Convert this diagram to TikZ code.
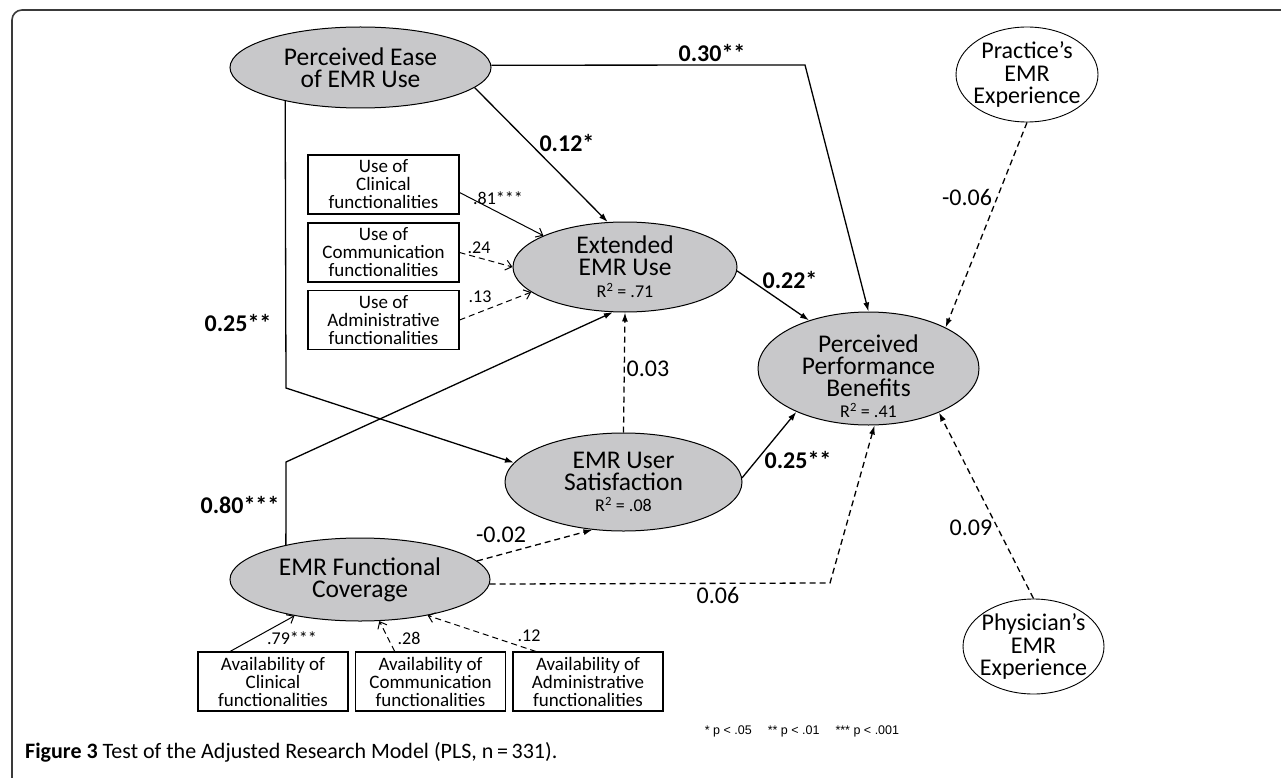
\documentclass[tikz,border=0pt]{standalone}
\usepackage{fontspec}
\setmainfont{Carlito}
\newfontfamily\legendfont{Liberation Sans}
\usetikzlibrary{arrows.meta,shapes.geometric}
\definecolor{latentfill}{HTML}{C8C8CA}
\definecolor{framecol}{HTML}{3A3A3A}

\begin{document}
\begin{tikzpicture}[x=1pt,y=-1pt,
   latent/.style={ellipse,draw,line width=1pt,fill=latentfill,inner sep=-16pt,align=center,
     font=\fontsize{25.5}{22}\selectfont},
   moderator/.style={ellipse,draw,line width=0.9pt,fill=white,inner sep=-14pt,align=center,
     font=\fontsize{24}{22.5}\selectfont},
   indicator/.style={rectangle,draw,line width=1.1pt,minimum width=151pt,minimum height=59pt,
     inner sep=0pt,align=center,font=\fontsize{19}{18}\selectfont},
   coef/.style={inner sep=0pt,font=\fontsize{24}{24}\selectfont\bfseries},
   nscoef/.style={inner sep=0pt,font=\fontsize{24}{24}\selectfont},
   weight/.style={inner sep=0pt,font=\fontsize{18}{18}\selectfont},
   sigpath/.style={line width=1.3pt,-{Latex[length=9pt,width=6pt]}},
   nspath/.style={sigpath,dash pattern=on 6pt off 4pt},
   loadpath/.style={line width=1pt,-{Straight Barb[length=6pt,width=10pt]}},
   nsload/.style={loadpath,dash pattern=on 6pt off 4pt}]
   \useasboundingbox (0,0) rectangle (1281,778);
   \draw [framecol,line width=1.6pt,rounded corners=10pt] (12,778) -- (12,10) -- (1281,10);

   \node [latent,minimum width=261pt,minimum height=81pt] (ease) at (360.5,67.5) {Perceived Ease\\of EMR Use};
   \node [latent,minimum width=224pt,minimum height=90pt] (ext) at (625,267)
     {Extended\\EMR Use\\[0pt]{\fontsize{18}{18}\selectfont R\textsuperscript{2} = .71}};
   \node [latent,minimum width=221pt,minimum height=113pt] (perf) at (868.5,368.5)
     {\rule{0pt}{34pt}Perceived\\Performance\\Benefits\\[-1pt]{\fontsize{18}{18}\selectfont R\textsuperscript{2} = .41}};
   \node [latent,minimum width=237pt,minimum height=98pt] (sat) at (623.5,482)
     {EMR User\\Satisfaction\\[-1pt]{\fontsize{18}{18}\selectfont R\textsuperscript{2} = .08}};
   \node [latent,minimum width=260pt,minimum height=83pt] (cov) at (360,579.5) {EMR Functional\\Coverage};
   \node [moderator,minimum width=142pt,minimum height=95pt] (prac) at (1027,74.5) {Practice’s\\EMR\\Experience};
   \node [moderator,minimum width=141pt,minimum height=95pt] (phys) at (1033.5,646.5) {Physician’s\\EMR\\Experience};

   \node [indicator] (useclin) at (383.5,184.5) {Use of\\Clinical\\functionalities};
   \node [indicator] (usecomm) at (383.5,252.5) {Use of\\Communication\\functionalities};
   \node [indicator] (useadmin) at (383.5,320) {Use of\\Administrative\\functionalities};
   \node [indicator,minimum width=150pt] (avclin) at (273,681.5) {Availability of\\Clinical\\functionalities};
   \node [indicator,minimum width=150pt] (avcomm) at (430.5,681.5) {Availability of\\Communication\\functionalities};
   \node [indicator,minimum width=150pt] (avadmin) at (588,681.5) {Availability of\\Administrative\\functionalities};

   \coordinate (c30) at (805,65);
   \coordinate (c25) at (286,388);
   \coordinate (c80) at (286,462);
   \coordinate (c06) at (830,583);

   \draw [sigpath] (ease.1) -- (c30) -- (perf.north);
   \draw [sigpath] (ease.-10) -- (ext.111);
   \draw [sigpath] (ease.204) -- (c25) -- (sat.170);
   \draw [sigpath] (cov.155) -- (c80) -- (ext.255);
   \draw [nspath] (sat.north) -- (ext.south);
   \draw [sigpath] (ext.-2) -- (perf.141);
   \draw [sigpath] (sat.2) -- (perf.211);
   \draw [nspath] (cov.9) -- (sat.237);
   \draw [nspath] (cov.-2) -- (c06) -- (perf.276);
   \draw [nspath] (prac.south) -- (perf.28);
   \draw [nspath] (phys.north) -- (perf.328);

   \draw [loadpath] (useclin.-6) -- (ext.159);
   \draw [nsload] (usecomm.east) -- (ext.west);
   \draw [nsload] (useadmin.east) -- (ext.195);
   \draw [loadpath] (avclin.145) -- (cov.209);
   \draw [nsload] (avcomm.140) -- (cov.295);
   \draw [nsload] (avadmin.150) -- (cov.332);

   \node [coef] (l30) at (712,53) {0.30**};
   \node [coef] (l12) at (567,143) {0.12*};
   \node [coef] (l25a) at (238,323) {0.25**};
   \node [coef] (l80) at (240,505) {0.80***};
   \node [coef] (l22) at (790,280) {0.22*};
   \node [coef] (l25b) at (798,460) {0.25**};
   \node [nscoef] (l03) at (648,369) {0.03};
   \node [nscoef] (l02) at (501,535) {-0.02};
   \node [nscoef] (l06) at (718,595) {0.06};
   \node [nscoef] (lp06) at (967,197) {-0.06};
   \node [nscoef] (l09) at (971,528) {0.09};
   \node [weight] (l81) at (498,198) {.81***};
   \node [weight] (l24) at (479,248) {.24};
   \node [weight] (l13) at (480,297) {.13};
   \node [weight] (l79) at (292,638) {.79***};
   \node [weight] (l28) at (409,638) {.28};
   \node [weight] (l12b) at (529,636) {.12};

   \node [inner sep=0pt] (legend) at (802,731)
     {\legendfont\fontsize{12.5}{12.5}\selectfont * p < .05\quad\ ** p < .01\quad\ *** p < .001};
   \node [anchor=west,inner sep=0pt,font=\fontsize{22}{22}\selectfont] (caption) at (25,752)
     {\textbf{Figure 3} Test of the Adjusted Research Model (PLS, n\,=\,331).};
\end{tikzpicture}
\end{document}
